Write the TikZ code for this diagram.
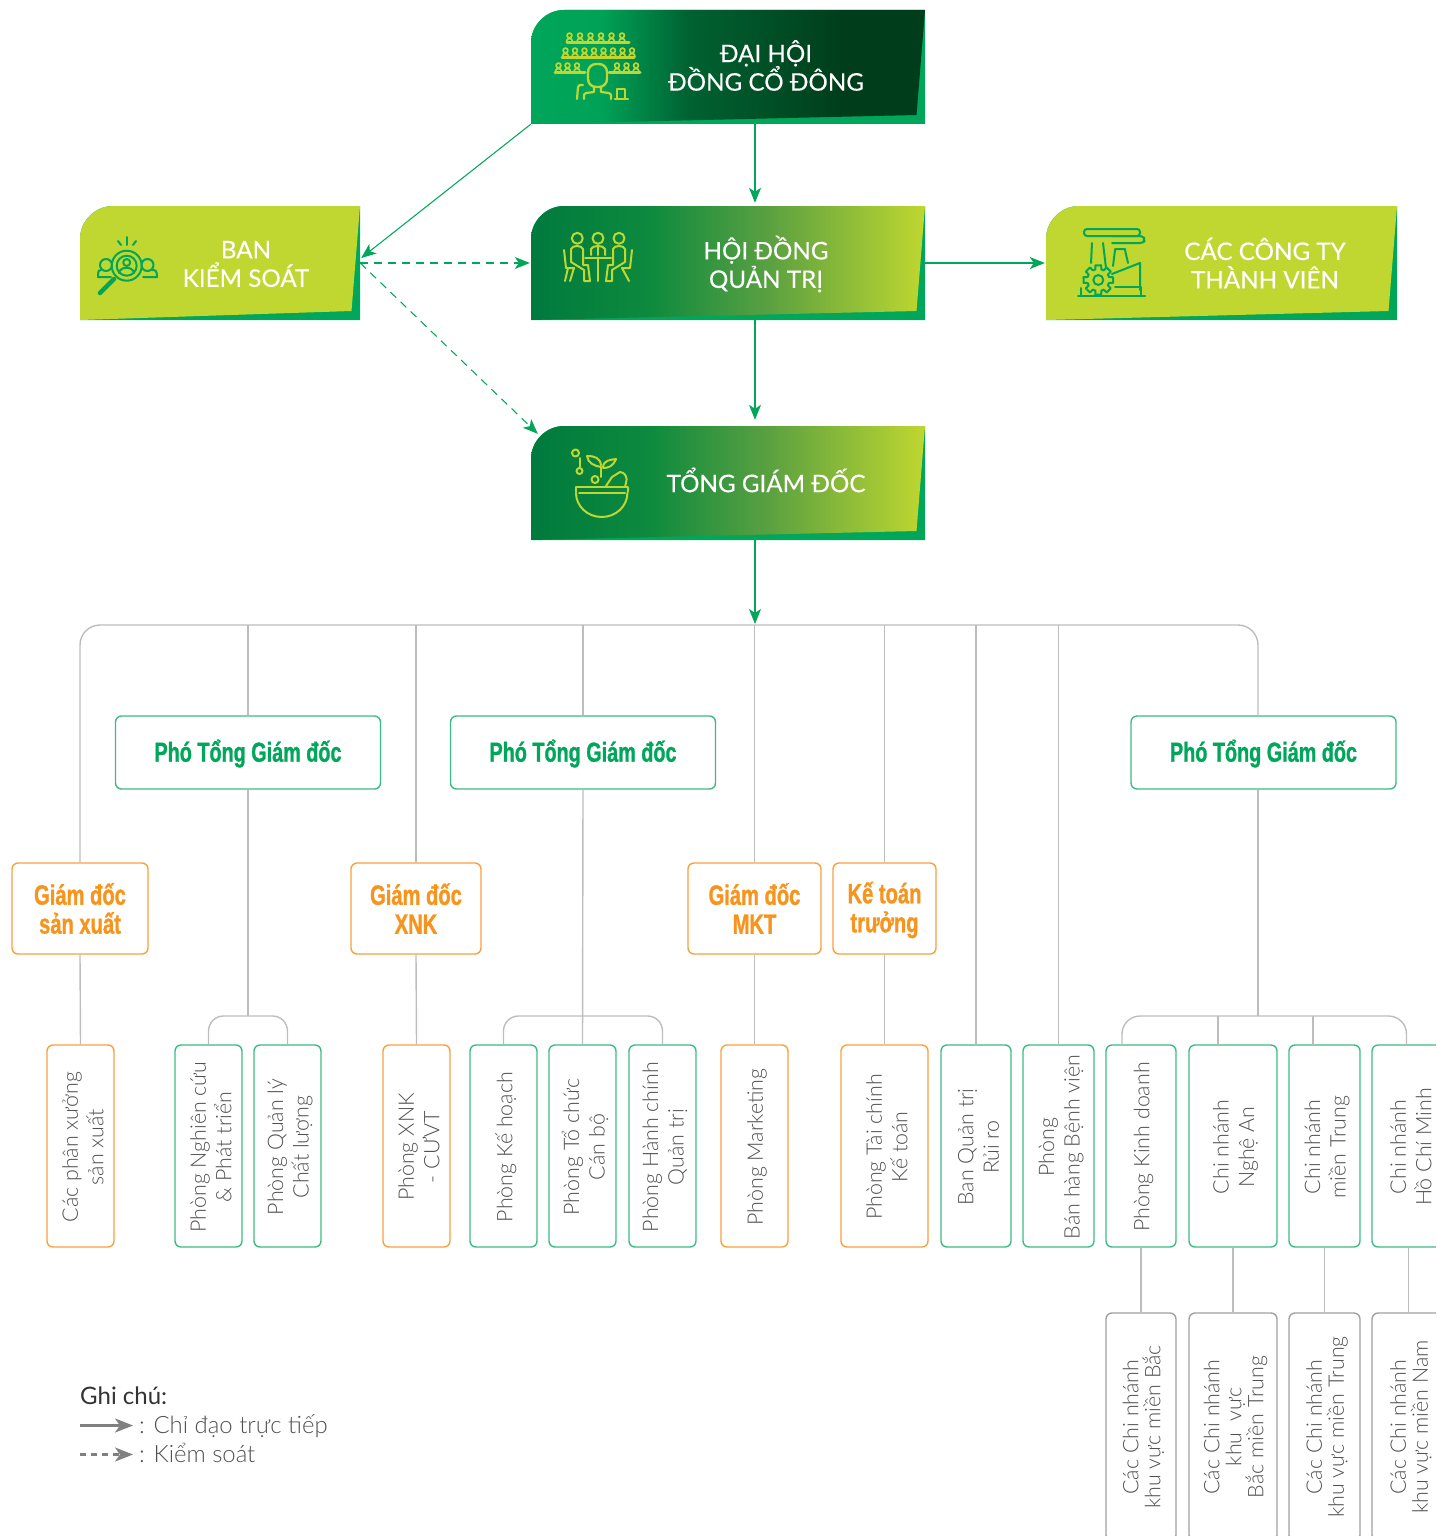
\documentclass[tikz,border=0pt]{standalone}
\usepackage{fontspec}
\setmainfont{Lato}
\newfontfamily\lightf{Lato Light}
\newfontfamily\condf[FakeStretch=0.72,FakeBold=1.0]{Liberation Sans Bold}
\newfontfamily\hdrf[FakeBold=0.25]{Lato}
\usetikzlibrary{arrows.meta,calc}
\definecolor{gA}{HTML}{00A65A}
\definecolor{gB}{HTML}{007A3D}
\definecolor{gC}{HTML}{003D1A}
\definecolor{lime}{HTML}{BFD730}
\definecolor{gStroke}{HTML}{3DBB85}
\definecolor{oStroke}{HTML}{F9A03F}
\definecolor{oText}{HTML}{F7941D}
\definecolor{gLine}{HTML}{BDBDBD}
\definecolor{gBox}{HTML}{A0A0A0}
\definecolor{tGray}{HTML}{505050}
\pgfdeclarehorizontalshading{shadeDH}{100bp}{color(0bp)=(gA); color(25bp)=(gA); color(34bp)=(gA!90!gB); color(45bp)=(gB!80!black); color(65bp)=(gC); color(75bp)=(gC); color(100bp)=(gC)}
\definecolor{hdM}{HTML}{0D8A3E}
\definecolor{hdN}{HTML}{5AA041}
\pgfdeclarehorizontalshading{shadeHD}{100bp}{color(0bp)=(gB); color(25bp)=(gB); color(40bp)=(hdM); color(55bp)=(hdN); color(75bp)=(lime); color(100bp)=(lime)}
\tikzset{
  conn/.style={gLine,line width=1.4pt},
  arrowline/.style={gA,line width=1.05pt,-{Stealth[length=15pt,width=12pt,inset=4pt]}},
  dashline/.style={arrowline,dash pattern=on 8pt off 6pt},
  gbox/.style={draw=gStroke,line width=1.4pt,rounded corners=6pt,fill=white,inner sep=0pt},
  obox/.style={draw=oStroke,line width=1.4pt,rounded corners=6pt,fill=white,inner sep=0pt},
  ybox/.style={draw=gBox,line width=1.4pt,rounded corners=6pt,fill=white,inner sep=0pt},
  hdr/.style={align=center,white,font=\hdrf\fontsize{24.2}{28.5}\selectfont\lineskiplimit-100pt},
  vtxt/.style={rotate=90,align=center,tGray,font=\lightf\fontsize{21.4}{25.5}\selectfont\lineskiplimit-100pt},
  vtxtb/.style={vtxt,font=\lightf\fontsize{21.4}{22}\selectfont\lineskiplimit-100pt},
  ttlG/.style={align=center,gA,font=\condf\fontsize{27.5}{29}\selectfont\lineskiplimit-100pt},
  ttlO/.style={align=center,oText,font=\condf\fontsize{28}{29}\selectfont\lineskiplimit-100pt},
  leg/.style={anchor=base west,inner sep=0pt,tGray,font=\lightf\fontsize{23.9}{28}\selectfont},
  legh/.style={anchor=base west,inner sep=0pt,black!80,font=\fontsize{24}{28}\selectfont},
  legarrow/.style={draw=gray,line width=2.2pt,-{Stealth[length=18pt,width=14pt,inset=5pt]}},
  icoY/.style={draw=lime,line width=2pt,line cap=round,line join=round},
  icoG/.style={draw=gA,line width=2pt,line cap=round,line join=round}
}
\newcommand{\bannerbox}[6]{%
  \fill[gA] (#2,#4+33) .. controls (#2,#4+15) and (#2+15,#4) .. (#2+33,#4) -- (#3,#4) -- (#3,#5) -- (#2,#5) -- cycle;
  \path[#6] (#2,#4+33) .. controls (#2,#4+15) and (#2+15,#4) .. (#2+33,#4) -- (#3,#4) -- (#3-8.5,#5-9) -- (#2,#5) -- cycle;
  \node[minimum width=#3pt-#2pt,minimum height=#5pt-#4pt,inner sep=0pt] (#1) at ({(#2+#3)/2},{(#4+#5)/2}) {};
}
\newcommand{\vbx}[7]{%
  \node[#2,minimum width=#4pt-#3pt,minimum height=#6pt-#5pt] (#1) at ({(#3+#4)/2},{(#5+#6)/2}) {};
  \node[vtxt] (#1t) at ($(#1)+(2.5,1)$) {#7};
}
\newcommand{\vbxb}[7]{%
  \node[#2,minimum width=#4pt-#3pt,minimum height=#6pt-#5pt] (#1) at ({(#3+#4)/2},{(#5+#6)/2}) {};
  \node[vtxtb] (#1t) at ($(#1)+(2.5,0)$) {#7};
}
\begin{document}
\begin{tikzpicture}[x=1pt,y=-1pt]
\useasboundingbox (0,0) rectangle (1436,1536);
\clip (0,0) rectangle (1436,1536);
% banners
\bannerbox{dh}{531}{925}{10}{124}{shade,shading=shadeDH}
\bannerbox{bk}{80}{360}{206}{320}{fill=lime}
\bannerbox{hd}{531}{925}{206}{320}{shade,shading=shadeHD}
\bannerbox{ct}{1046}{1397}{206}{320}{fill=lime}
\bannerbox{tg}{531}{925}{426}{540}{shade,shading=shadeHD}
\node[hdr] (dht) at ($(dh)+(38,-1.5)$) {ĐẠI HỘI\\ĐỒNG CỔ ĐÔNG};
\node[hdr] (bkt) at ($(bk)+(26,1)$) {BAN\\KIỂM SOÁT};
\node[hdr] (hdt) at ($(hd)+(38,1)$) {HỘI ĐỒNG\\QUẢN TRỊ};
\node[hdr] (ctt) at ($(ct)+(43.5,0)$) {CÁC CÔNG TY\\THÀNH VIÊN};
\node[hdr] (tgt) at ($(tg)+(38,-3)$) {TỔNG GIÁM ĐỐC};
% second level
\node[gbox,minimum width=265pt,minimum height=73pt] (p1) at (248,752.5) {};
\node[gbox,minimum width=265pt,minimum height=73pt] (p2) at (583,752.5) {};
\node[gbox,minimum width=265pt,minimum height=73pt] (p3) at (1263.5,752.5) {};
\node[ttlG] (p1t) at ($(p1)+(0,1)$) {Phó Tổng Giám đốc};
\node[ttlG] (p2t) at ($(p2)+(0,1)$) {Phó Tổng Giám đốc};
\node[ttlG] (p3t) at ($(p3)+(0,1)$) {Phó Tổng Giám đốc};
\node[obox,minimum width=136pt,minimum height=91pt] (gs) at (80,908.5) {};
\node[obox,minimum width=130pt,minimum height=91pt] (gx) at (416,908.5) {};
\node[obox,minimum width=133pt,minimum height=91pt] (gm) at (754.5,908.5) {};
\node[obox,minimum width=103pt,minimum height=91pt] (kt) at (884.5,908.5) {};
\node[ttlO] (gst) at (gs) {Giám đốc\\sản xuất};
\node[ttlO] (gxt) at (gx) {Giám đốc\\XNK};
\node[ttlO] (gmt) at (gm) {Giám đốc\\MKT};
\node[ttlO] (ktt) at ($(kt)+(0,1.5)$) {Kế toán\\trưởng};
% third row
\vbx{r1}{obox}{47}{114}{1045}{1247}{Các phân xưởng\\sản xuất}
\vbx{r2}{gbox}{175}{242}{1045}{1247}{Phòng Nghiên cứu\\\& Phát triển}
\vbx{r3}{gbox}{254}{321}{1045}{1247}{Phòng Quản lý\\Chất lượng}
\vbx{r4}{obox}{383}{450}{1045}{1247}{Phòng XNK\\- CƯVT}
\vbx{r5}{gbox}{470}{537}{1045}{1247}{Phòng Kế hoạch}
\vbx{r6}{gbox}{549}{616}{1045}{1247}{Phòng Tổ chức\\Cán bộ}
\vbx{r7}{gbox}{629}{696}{1045}{1247}{Phòng Hành chính\\Quản trị}
\vbx{r8}{obox}{721}{788}{1045}{1247}{Phòng Marketing}
\vbx{r9}{obox}{841}{928}{1045}{1247}{Phòng Tài chính\\Kế toán}
\vbx{r10}{gbox}{941}{1011}{1045}{1247}{Ban Quản trị\\Rủi ro}
\vbx{r11}{gbox}{1023}{1094}{1045}{1247}{Phòng\\Bán hàng Bệnh viện}
\vbx{r12}{gbox}{1106}{1176}{1045}{1247}{Phòng Kinh doanh}
\vbx{r13}{gbox}{1189}{1277}{1045}{1247}{Chi nhánh\\Nghệ An}
\vbx{r14}{gbox}{1289}{1360}{1045}{1247}{Chi nhánh\\miền Trung}
\vbx{r15}{gbox}{1372}{1445}{1045}{1247}{Chi nhánh\\Hồ Chí Minh}
% fourth row
\vbxb{s1}{ybox}{1106}{1176}{1313}{1541}{Các Chi nhánh\\khu vực miền Bắc}
\vbxb{s2}{ybox}{1189}{1277}{1313}{1541}{Các Chi nhánh\\khu\enspace vực\\Bắc miền Trung}
\vbxb{s3}{ybox}{1289}{1360}{1313}{1541}{Các Chi nhánh\\khu vực miền Trung}
\vbxb{s4}{ybox}{1372}{1445}{1313}{1541}{Các Chi nhánh\\khu vực miền Nam}
% gray connectors
\coordinate (busT) at (755,625);
\coordinate (b1) at (248,1016);
\coordinate (b2) at (583,1016);
\coordinate (b3) at (1258,1016);
\draw[conn,rounded corners=20pt] (gs.north) |- (busT) -| ([xshift=-5.5pt]p3.north);
\foreach \n in {p1,p2,gx,gm,kt,r10,r11} \draw[conn] (\n.north |- busT) -- (\n.north);
\draw[conn] (gs.south) -- (r1.north);
\draw[conn] (gx.south) -- (r4.north);
\draw[conn] (gm.south) -- (r8.north);
\draw[conn] (kt.south) -- (r9.north);
\draw[conn] (p1.south) -- (b1);
\draw[conn] (p2.south) -- (r6.north);
\draw[conn] ([xshift=-5.5pt]p3.south) -- (b3);
\draw[conn,rounded corners=15pt] (r2.north) |- (b1) -| (r3.north);
\draw[conn,rounded corners=15pt] (r5.north) |- (b2) -| (r7.north);
\coordinate (b3l) at (1122,1045);
\coordinate (b3r) at (1406.5,1045);
\draw[conn,rounded corners=18pt] (b3l) |- (b3) -| (b3r);
\draw[conn] (1218,1016) -- (1218,1045);
\draw[conn] (1313,1016) -- (1313,1045);
\draw[conn] (s1.north |- r12.south) -- (s1.north);
\draw[conn] (s2.north |- r13.south) -- (s2.north);
\draw[conn] (s3.north |- r14.south) -- (s3.north);
\draw[conn] (s4.north |- r15.south) -- (s4.north);
% arrows
\draw[arrowline,shorten >=3pt] ([xshift=27pt]dh.south) -- ([xshift=27pt]hd.north);
\draw[arrowline,shorten >=6pt] ([xshift=27pt]hd.south) -- ([xshift=27pt]tg.north);
\draw[arrowline,shorten >=1pt] ([xshift=27pt]tg.south) -- (busT);
\draw[arrowline,shorten >=1pt] (hd.east) -- (ct.west);
\draw[arrowline] (dh.south west) -- ([xshift=1pt,yshift=5pt]bk.east);
\draw[dashline,shorten >=1pt] (bk.east) -- (hd.west);
\draw[dashline] (bk.east) -- ([shift={(7,8)}]tg.north west);
% legend
\node[legh] (lg0) at (80,1404) {Ghi chú:};
\coordinate (la1) at (80,1425.5); \coordinate (la2) at (133,1425.5);
\coordinate (lb1) at (80,1454.5); \coordinate (lb2) at (133,1454.5);
\draw[legarrow] (la1) -- (la2);
\draw[legarrow,dash pattern=on 6pt off 5pt] (lb1) -- (lb2);
\node[leg] (lg1) at (139,1433) {: Chỉ đạo trực tiếp};
\node[leg] (lg2) at (139,1462) {: Kiểm soát};
% icon: audience
\begin{scope}[icoY,line width=1.7pt]
\foreach \x in {569.5,580,590.5,601,611.5,622} {\draw (\x,35.5) circle (2.4pt); \draw (\x-3,41.5) .. controls (\x-3,37.5) and (\x+3,37.5) .. (\x+3,41.5);}
\draw[line width=3pt] (567,42.5) -- (629,42.5);
\foreach \x in {565.5,575,584.5,594,603.5,613,622.5,632} {\draw (\x,50.5) circle (2.4pt); \draw (\x-3,56.5) .. controls (\x-3,52.5) and (\x+3,52.5) .. (\x+3,56.5);}
\draw[line width=3pt] (562,57.5) -- (634,57.5);
\foreach \x in {558.5,567.5,577,617,626.5,636} {\draw (\x,65.5) circle (2.4pt); \draw (\x-3,71.5) .. controls (\x-3,67.5) and (\x+3,67.5) .. (\x+3,71.5);}
\draw[line width=3pt] (555,72.5) -- (585,72.5);
\draw[line width=3pt] (609,72.5) -- (640,72.5);
\draw[rounded corners=8pt,line width=2.4pt] (588,64) rectangle (607,87);
\draw[line width=2.2pt] (594,87) -- (594,92) -- (586,93) .. controls (584,94) .. (584,99);
\draw[line width=2.2pt] (601,87) -- (601,92) -- (609,93) .. controls (611,94) .. (611,99);
\draw[line width=2.2pt] (577,99) -- (578,87) .. controls (579,85) .. (583,85);
\draw[line width=2.2pt] (615,99) -- (628,99) (617,99) -- (617,89) -- (625,89) -- (625,99);
\end{scope}
% icon: magnifier
\begin{scope}[icoG]
\draw (126.7,265.7) circle (15pt);
\draw (126.7,265.7) circle (10pt);
\draw (126.7,262.5) circle (3.5pt);
\draw (119,273) .. controls (120,266) and (133,266) .. (134,273);
\draw[line width=4.5pt] (114,279) -- (100,293);
\draw (126.7,237) -- (126.7,245);
\draw (118,241) -- (121,245);
\draw (136,241) -- (133,245);
\draw (106,265) circle (6pt);
\draw (147.5,265) circle (6pt);
\draw (111,277) -- (98,277) .. controls (98,270) and (99,270) .. (101,270);
\draw (143,277) -- (157,277) .. controls (157,270) and (155,270) .. (152,270);
\end{scope}
% icon: meeting
\begin{scope}[icoY]
\foreach \x in {577.3,598,619} \draw (\x,238.3) circle (5.5pt);
\draw (585,257.5) -- (611,257.5);
\draw (598,257.5) -- (598,281);
\draw (591,255) -- (591,249) .. controls (592,245) and (604,245) .. (605,249) -- (605,255);
\draw (598,245) -- (598,255);
\draw (571,262) -- (571,249) .. controls (572,245) and (582,245) .. (583,249) -- (583,265) -- (588,265) -- (590,281) -- (584,281) -- (584,270) -- (571,262);
\draw (625,262) -- (625,249) .. controls (624,245) and (614,245) .. (613,249) -- (613,265) -- (608,265) -- (606,281) -- (612,281) -- (612,270) -- (625,262);
\draw (564,250) -- (566,268) -- (574,268) -- (570,281);
\draw (632,250) -- (630,268) -- (622,268) -- (629,281);
\draw (568,268) -- (565,281);
\end{scope}
% icon: bowl
\begin{scope}[icoY]
\draw (576,487) -- (627.5,487) -- (627.5,492);
\draw (576,487) -- (576,492);
\draw (576,493) arc (180:0:25.7pt and -24pt);
\draw (579,493) -- (625,493);
\draw (601,467) -- (601,477);
\draw (601,465) .. controls (600,458) and (595,456) .. (587,456) .. controls (588,463) and (594,466) .. (601,467);
\draw (603,467) .. controls (604,460) and (610,460) .. (616,459) .. controls (613,466) and (609,468) .. (603,468);
\draw (606,486) -- (612,477) -- (620,472) .. controls (625,472) and (628,478) .. (626,483) -- (625,487);
\draw (575.5,453) circle (3.5pt);
\draw (580,458) -- (580,467);
\draw (579.5,471) circle (3pt);
\draw (595,479.5) circle (3.5pt);
\end{scope}
% icon: factory
\begin{scope}[icoG]
\draw[rounded corners=3pt] (1084,229) rectangle (1140,236);
\draw[rounded corners=3pt] (1112,236) -- (1143,236) -- (1145,240) -- (1143,243) -- (1112,243);
\draw (1092,243) -- (1091,263) (1103,243) -- (1106,268);
\draw (1115,250) -- (1113,266) (1125,250) -- (1128,263) (1115,249) -- (1125,249);
\draw (1112,274) -- (1140,263) -- (1140,290);
\draw (1115,287) -- (1141,287) -- (1141,296);
\draw (1078,296) -- (1145,296);
\draw (1081,288) -- (1081,296);
\foreach \a in {0,45,...,315}
  \draw ($(1098.3,280)+(\a-11:15pt)$) -- ($(1098.3,280)+(\a+11:15pt)$) -- ($(1098.3,280)+(\a+16:11pt)$) -- ($(1098.3,280)+(\a+29:11pt)$) -- ($(1098.3,280)+(\a+34:15pt)$);
\draw (1098.3,280) circle (5pt);
\end{scope}
\end{tikzpicture}
\end{document}
